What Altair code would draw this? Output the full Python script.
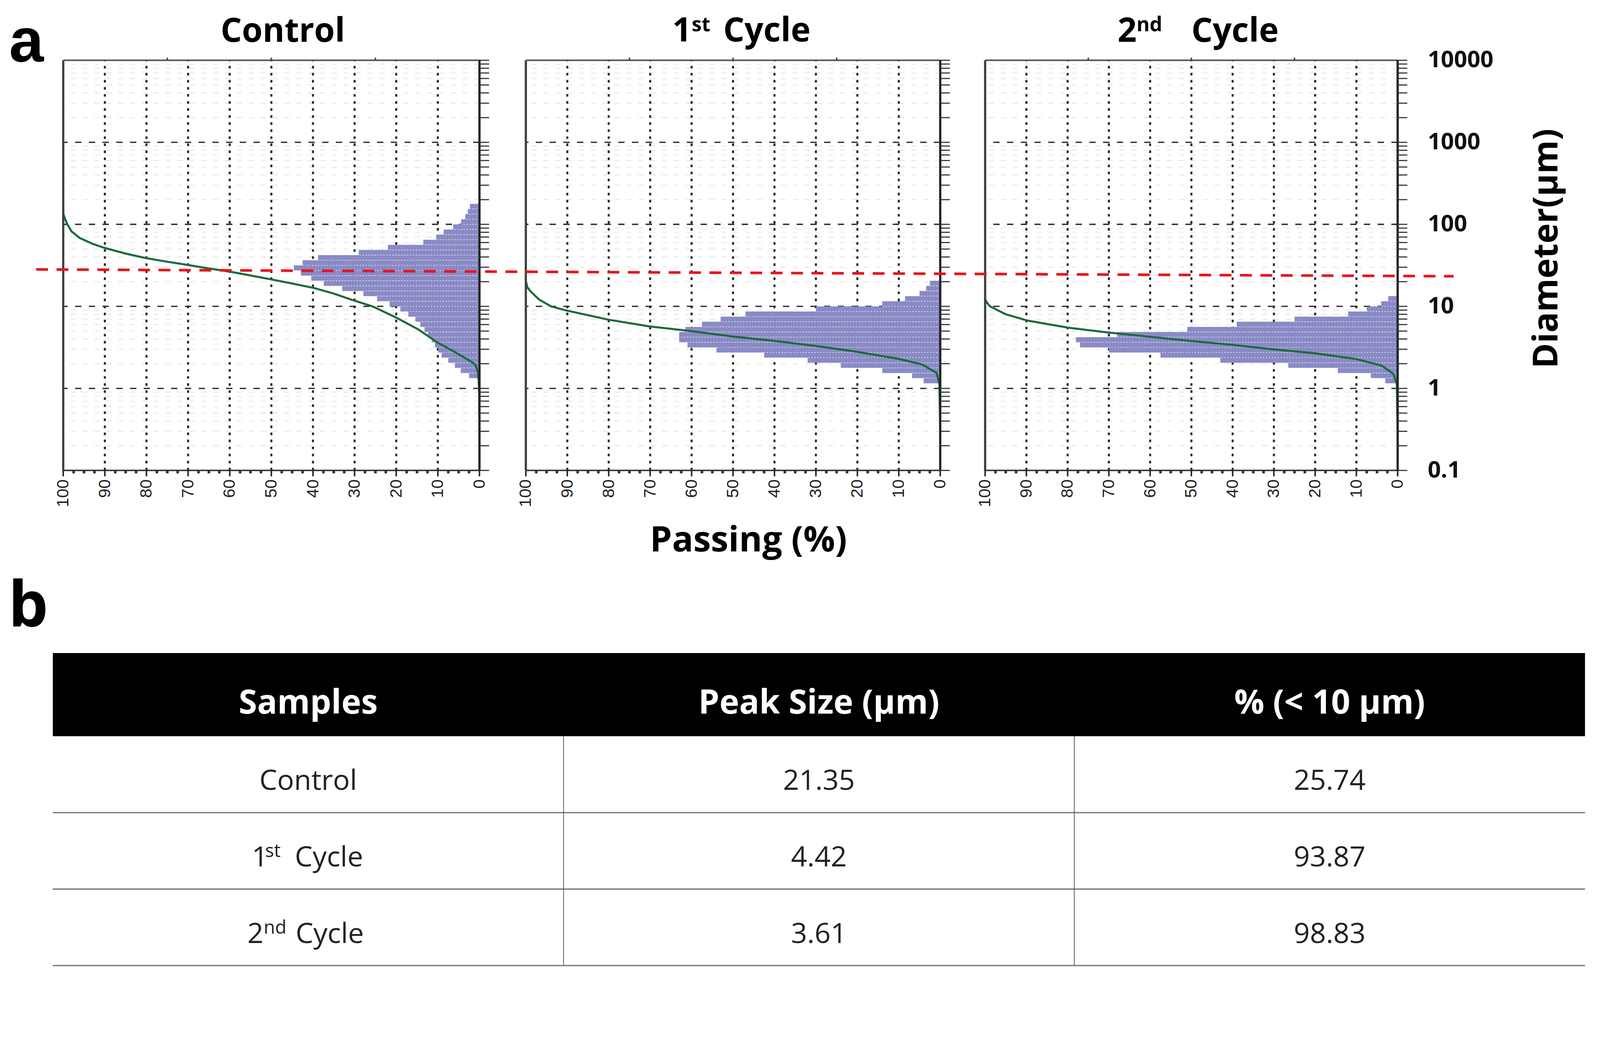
import altair as alt
import pandas as pd

# ---------------- data ----------------
PANELS = ["Control", "1st Cycle", "2nd Cycle"]

# histogram bin edges (µm), 16 bins per decade
BIN_EDGES = [1.0, 1.155, 1.334, 1.540, 1.778, 2.054, 2.371, 2.738, 3.162, 3.652,
             4.217, 4.870, 5.623, 6.494, 7.499, 8.660, 10.0, 11.55, 13.34, 15.40,
             17.78, 20.54, 23.71, 27.38, 31.62, 36.52, 42.17, 48.70, 56.23, 64.94,
             74.99, 86.60, 100.0, 115.5, 133.4, 154.0, 177.8]

HIST_CONTROL = [0, 0, 2.5, 4.5, 5.9, 7.5, 9.1, 9.9, 10.7, 11.5, 12.4, 13.2, 14.2,
                15.4, 17.1, 19.0, 21.6, 24.6, 27.9, 33.0, 37.4, 40.4, 42.9, 44.6,
                42.5, 38.8, 29.0, 22.0, 13.5, 10.4, 8.6, 6.3, 4.4, 3.4, 2.8, 2.3]
HIST_CYCLE1 = [0, 4.0, 6.8, 14, 24, 32, 42.5, 54, 61, 63, 63, 61.5, 57.5, 53, 47,
               30, 14, 8.5, 5.0, 3.4, 2.5]
HIST_CYCLE2 = [0, 3, 6.5, 14.5, 26.5, 43, 57.5, 70, 77, 78, 68, 51, 39, 25, 12,
               7.5, 4, 2.3]

CONTROL_PASS = [100, 100, 99.6, 99, 98, 96, 93, 90.3, 85, 80.4, 75, 70.1, 65, 59.8,
                55, 50, 45, 40.1, 35, 30.2, 25.7, 20, 14.6, 10, 6, 4.7, 2.5, 1.0,
                0.4, 0.2, 0.05, 0]
CONTROL_D = [158, 135, 118, 100, 82, 68, 58, 52, 44, 39, 35, 32, 29, 26.4, 23.8,
             21.3, 19.0, 16.9, 14.3, 11.8, 10, 7.3, 5.2, 3.6, 2.8, 2.55, 2.2, 1.95,
             1.6, 1.24, 0.8, 0.28]
CYCLE1_PASS = [100, 99.6, 98.9, 96.8, 93.9, 90.2, 85, 80.2, 70.2, 60.2, 50.2, 40.2,
               30.2, 20.2, 10.2, 4.4, 0.9, 0.2, 0]
CYCLE1_D = [20.3, 17, 15.3, 12.1, 10, 8.9, 7.8, 6.9, 5.7, 5.0, 4.3, 3.8, 3.3, 2.8,
            2.3, 1.96, 1.55, 1.12, 0.29]
CYCLE2_PASS = [100, 99.5, 98.8, 95.1, 89.7, 79.9, 70.1, 60.3, 50.5, 40.2, 30.4,
               20.1, 10.3, 3.9, 1.0, 0.2, 0]
CYCLE2_D = [12.2, 11, 10, 8.05, 6.7, 5.5, 4.8, 4.27, 3.8, 3.4, 3.0, 2.68, 2.29,
            1.9, 1.5, 1.13, 0.29]

X_TICKS = [0, 10, 20, 30, 40, 50, 60, 70, 80, 90, 100]
X_MINOR = [v / 2 for v in range(5, 200, 5) if v % 20 != 0]  # every 2.5 %
X_TOP_TICKS = [25, 50, 75]
Y_MAJOR = [0.1, 1, 10, 100, 1000, 10000]
Y_LABELS = ["0.1", "1", "10", "100", "1000", "10000"]
Y_GRID = [1, 10, 100, 1000]
Y_MINOR = [m * 10.0 ** e for e in range(-1, 4) for m in range(2, 10)]

RED_LINE_D = [28.2, 23.3]   # peak-size reference line (left end, right end)

TABLE_HEADER = ["Samples", "Peak Size (μm)", "% (< 10 μm)"]
TABLE_SAMPLES = ["Control", "1st Cycle", "2nd Cycle"]
PEAK_SIZE = ["21.35", "4.42", "3.61"]
PCT_BELOW_10 = ["25.74", "93.87", "98.83"]

# ---------------- style / layout ----------------
W, H = 4296, 2569
S = -71  # vertical shift
PANEL_X = [(162, 1284), (1409, 2526), (2647, 3759)]
Y_BOTTOM, Y_TOP = 1262 + S, 157 + S
HIST_COLOR = "#8a8ac6"
GREEN = "#1b6a3c"
RED = "#e8151c"
GRID = "#2a2a2a"
FONT = "Open Sans"


def panel(xr, hist, cp, cd, with_labels):
    xs = alt.Scale(domain=[0, 100], range=[xr[1], xr[0]], nice=False, zero=False)
    ys = alt.Scale(type="log", domain=[0.1, 10000], range=[Y_BOTTOM, Y_TOP], nice=False)

    def X(f):
        return alt.X(f, type="quantitative", scale=xs, axis=None)

    def Y(f):
        return alt.Y(f, type="quantitative", scale=ys, axis=None)

    layers = []
    minor = pd.DataFrame({"d": Y_MINOR, "a": 0, "b": 100})
    layers.append(alt.Chart(minor).mark_rule(color="#e2e2e2", strokeWidth=2, strokeDash=[14, 18])
                  .encode(x=X("a"), x2=alt.X2("b"), y=Y("d")))
    vg = pd.DataFrame({"p": X_TICKS[1:-1], "lo": 0.1, "hi": 10000})
    layers.append(alt.Chart(vg).mark_rule(color=GRID, strokeWidth=5.5, strokeDash=[7, 12])
                  .encode(x=X("p"), y=Y("lo"), y2=alt.Y2("hi")))
    hg = pd.DataFrame({"d": Y_GRID, "a": 0, "b": 100})
    layers.append(alt.Chart(hg).mark_rule(color=GRID, strokeWidth=3.5, strokeDash=[17, 20])
                  .encode(x=X("a"), x2=alt.X2("b"), y=Y("d")))

    rows = []
    for k, v in enumerate(hist):
        if v <= 0:
            continue
        prev = hist[k - 1] if k > 0 else 0
        rows.append({"d0": BIN_EDGES[k], "d1": BIN_EDGES[k + 1], "v": v, "z": 0,
                     "vm": min(v, prev)})
    hdf = pd.DataFrame(rows)
    layers.append(alt.Chart(hdf).mark_rect(color=HIST_COLOR)
                  .encode(x=X("z"), x2=alt.X2("v"), y=Y("d0"), y2=alt.Y2("d1")))
    layers.append(alt.Chart(hdf[hdf.vm > 0]).mark_rule(color="white", strokeWidth=2,
                                                      strokeDash=[3, 5], opacity=0.8)
                  .encode(x=X("z"), x2=alt.X2("vm"), y=Y("d0")))

    cdf = pd.DataFrame({"p": cp, "d": cd, "i": list(range(len(cp)))})
    layers.append(alt.Chart(cdf).mark_line(color=GREEN, strokeWidth=5.5, strokeJoin="round")
                  .encode(x=X("p"), y=Y("d"), order="i:Q"))

    # frame
    layers.append(alt.Chart(pd.DataFrame({"p": [100], "lo": [0.1], "hi": [10000]}))
                  .mark_rule(color="#404040", strokeWidth=6)
                  .encode(x=X("p"), y=Y("lo"), y2=alt.Y2("hi")))
    layers.append(alt.Chart(pd.DataFrame({"d": [10000], "a": [0], "b": [100]}))
                  .mark_rule(color="#555555", strokeWidth=4)
                  .encode(x=X("a"), x2=alt.X2("b"), y=Y("d")))
    layers.append(alt.Chart(pd.DataFrame({"d": [0.1], "a": [0], "b": [100]}))
                  .mark_rule(color="#333333", strokeWidth=4)
                  .encode(x=X("a"), x2=alt.X2("b"), y=Y("d")))
    layers.append(alt.Chart(pd.DataFrame({"p": [0], "lo": [0.1], "hi": [10000]}))
                  .mark_rule(color="#222222", strokeWidth=6)
                  .encode(x=X("p"), y=Y("lo"), y2=alt.Y2("hi")))

    # ticks
    layers.append(alt.Chart(pd.DataFrame({"p": X_TICKS, "d": 0.1}))
                  .mark_rule(color="#222222", strokeWidth=4, y2Offset=16)
                  .encode(x=X("p"), y=Y("d"), y2=alt.Y2("d")))
    layers.append(alt.Chart(pd.DataFrame({"p": X_MINOR, "d": 0.1}))
                  .mark_rule(color="#333333", strokeWidth=7, y2Offset=8)
                  .encode(x=X("p"), y=Y("d"), y2=alt.Y2("d")))
    layers.append(alt.Chart(pd.DataFrame({"p": X_TOP_TICKS, "d": 10000}))
                  .mark_rule(color="#444444", strokeWidth=4, y2Offset=-7)
                  .encode(x=X("p"), y=Y("d"), y2=alt.Y2("d")))
    layers.append(alt.Chart(pd.DataFrame({"d": Y_MAJOR + Y_MINOR, "p": 0}))
                  .mark_rule(color="#333333", strokeWidth=3, x2Offset=26)
                  .encode(x=X("p"), x2=alt.X2("p"), y=Y("d")))

    # tick labels
    xl = pd.DataFrame({"p": X_TICKS, "d": 0.1, "t": [str(v) for v in X_TICKS]})
    layers.append(alt.Chart(xl).mark_text(angle=270, align="right", baseline="middle",
                                          fontSize=45, font="Liberation Sans",
                                          color="#222222", yOffset=24)
                  .encode(x=X("p"), y=Y("d"), text="t:N"))
    if with_labels:
        yl = pd.DataFrame({"d": Y_MAJOR, "p": 0, "t": Y_LABELS})
        layers.append(alt.Chart(yl).mark_text(align="left", baseline="middle", xOffset=81,
                                              fontSize=62, fontWeight="bold", font=FONT,
                                              color="#111111")
                      .encode(x=X("p"), y=Y("d"), text="t:N"))
    return alt.layer(*layers)


p1 = panel(PANEL_X[0], HIST_CONTROL, CONTROL_PASS, CONTROL_D, False)
p2 = panel(PANEL_X[1], HIST_CYCLE1, CYCLE1_PASS, CYCLE1_D, False)
p3 = panel(PANEL_X[2], HIST_CYCLE2, CYCLE2_PASS, CYCLE2_D, True)

ys_red = alt.Scale(type="log", domain=[0.1, 10000], range=[Y_BOTTOM, Y_TOP], nice=False)
red = (alt.Chart(pd.DataFrame({"d0": [RED_LINE_D[0]], "d1": [RED_LINE_D[1]]}))
       .mark_rule(color=RED, strokeWidth=7, strokeDash=[32, 23])
       .encode(x=alt.value(89), x2=alt.value(3910),
               y=alt.Y("d0:Q", scale=ys_red, axis=None), y2=alt.Y2("d1")))

# ---------------- table ----------------
txs = alt.Scale(domain=[0, 3], range=[134, 4264], nice=False, zero=False)
tys = alt.Scale(domain=[0, 4], range=[1772 + S, 2596 + S], nice=False, zero=False)


def TX(f):
    return alt.X(f, type="quantitative", scale=txs, axis=None)


def TY(f):
    return alt.Y(f, type="quantitative", scale=tys, axis=None)


tlayers = []
tlayers.append(alt.Chart(pd.DataFrame({"c0": [0], "c1": [3], "r0": [0], "r1": [1]}))
               .mark_rect(color="black", yOffset=-18)
               .encode(x=TX("c0"), x2=alt.X2("c1"), y=TY("r0"), y2=alt.Y2("r1")))
tlayers.append(alt.Chart(pd.DataFrame({"r": [2, 3, 4], "a": 0, "b": 3}))
               .mark_rule(color="#7a7a7a", strokeWidth=3.5)
               .encode(x=TX("a"), x2=alt.X2("b"), y=TY("r")))
tlayers.append(alt.Chart(pd.DataFrame({"c": [1, 2], "r0": 1, "r1": 4}))
               .mark_rule(color="#555555", strokeWidth=2)
               .encode(x=TX("c"), y=TY("r0"), y2=alt.Y2("r1")))
tlayers.append(alt.Chart(pd.DataFrame({"c": [0.5, 1.5, 2.5], "r": 0.5, "t": TABLE_HEADER}))
               .mark_text(color="white", fontSize=90, fontWeight="bold", font=FONT,
                          baseline="alphabetic", dy=42)
               .encode(x=TX("c"), y=TY("r"), text="t:N"))
body = pd.DataFrame({
    "c": [1.5] * 3 + [2.5] * 3 + [0.5],
    "r": [1.5, 2.5, 3.5] * 2 + [1.5],
    "t": PEAK_SIZE + PCT_BELOW_10 + [TABLE_SAMPLES[0]],
})
tlayers.append(alt.Chart(body).mark_text(color="#222222", fontSize=76, font=FONT,
                                         baseline="alphabetic", dy=42)
               .encode(x=TX("c"), y=TY("r"), text="t:N"))
# sample names with superscripts
for r, main, sup, dxm, dxs, dxc in [(2.5, "1", "st", -152, -116, -36),
                                    (3.5, "2", "nd", -164, -120, -34)]:
    d = pd.DataFrame({"c": [0.5], "r": [r]})
    tlayers.append(alt.Chart(d).mark_text(color="#222222", fontSize=76, font=FONT, align="left",
                                          baseline="alphabetic", dy=42, dx=dxm)
                   .encode(x=TX("c"), y=TY("r"), text=alt.value(main)))
    tlayers.append(alt.Chart(d).mark_text(color="#222222", fontSize=50, font=FONT, align="left",
                                          baseline="alphabetic", dy=17, dx=dxs)
                   .encode(x=TX("c"), y=TY("r"), text=alt.value(sup)))
    tlayers.append(alt.Chart(d).mark_text(color="#222222", fontSize=76, font=FONT, align="left",
                                          baseline="alphabetic", dy=42, dx=dxc)
                   .encode(x=TX("c"), y=TY("r"), text=alt.value("Cycle")))
table = alt.layer(*tlayers)

# ---------------- annotations ----------------
one = pd.DataFrame({"k": [0]})


def note(text, x, y, size, align="left", angle=0, weight="bold", font=FONT):
    return (alt.Chart(one)
            .mark_text(text=text, fontSize=size, fontWeight=weight, font=font, align=align,
                       baseline="alphabetic", angle=angle, color="black")
            .encode(x=alt.value(x), y=alt.value(y + S)))


notes = alt.layer(
    note("a", 16, 160, 168, font="Liberation Sans"),
    note("b", 14, 1682, 170),
    note("Control", 754, 107, 90, align="center"),
    note("1", 1804, 106, 90),
    note("st", 1856, 79, 54),
    note("Cycle", 1941, 106, 90),
    note("2", 3004, 107, 90),
    note("nd", 3055, 79, 54),
    note("Cycle", 3203, 107, 90),
    note("Passing (%)", 2009, 1480, 95, align="center"),
    note("Diameter(μm)", 4190, 664, 92, align="center", angle=270),
)

chart = (alt.layer(p1, p2, p3, red, table, notes)
         .resolve_scale(x="independent", y="independent")
         .properties(width=W, height=H, autosize=alt.AutoSizeParams(type="none"), padding=0,
                     background="white")
         .configure_view(stroke=None))

chart.save("out.html", embed_options={"renderer": "svg", "actions": False})
